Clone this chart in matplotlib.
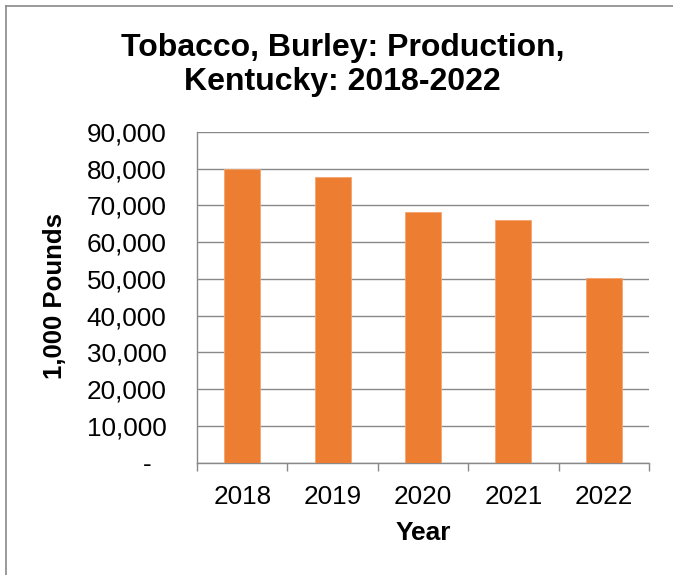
import numpy as np
import matplotlib.pyplot as plt
from matplotlib.lines import Line2D

plt.rcParams['font.family'] = ['Liberation Sans', 'DejaVu Sans']

# donnees
years = ['2018', '2019', '2020', '2021', '2022']
production = [80000, 77800, 68200, 66100, 50400]
y_ticks = [0, 10000, 20000, 30000, 40000, 50000, 60000, 70000, 80000, 90000]

BAR_COLOR = '#ED7D31'
GRID_COLOR = '#898989'


def fmt_tick(v):
    if v == 0:
        return '-  '
    return '{:,}'.format(int(v))


def main():
    fig = plt.figure(figsize=(6.73, 5.75), dpi=100)
    ax = fig.add_axes([197 / 673, 1 - 462.7 / 575, 452 / 673, 330.7 / 575])

    x = np.arange(len(years))
    ax.bar(x, production, width=0.4, color=BAR_COLOR, edgecolor='#F4A46F',
           linewidth=0.6, zorder=3)

    ax.set_xlim(-0.5, len(years) - 0.5)
    ax.set_ylim(0, 90000)

    ax.set_yticks(y_ticks)
    ax.set_yticklabels([fmt_tick(v) for v in y_ticks])
    ax.yaxis.grid(True, color=GRID_COLOR, linewidth=1.0, zorder=0)
    ax.tick_params(axis='y', length=0, labelsize=18.8, pad=22)

    ax.set_xticks(x)
    ax.set_xticklabels(years)
    ax.set_xticks(np.arange(len(years) + 1) - 0.5, minor=True)
    ax.tick_params(axis='x', which='major', length=0, labelsize=18.8, pad=16)
    ax.tick_params(axis='x', which='minor', length=6, color=GRID_COLOR, width=1.0)

    for side in ['top', 'right']:
        ax.spines[side].set_visible(False)
    for side in ['left', 'bottom']:
        ax.spines[side].set_color(GRID_COLOR)
        ax.spines[side].set_linewidth(1.0)

    fig.text(342.5 / 673, 1 - 65 / 575,
             'Tobacco, Burley: Production,\nKentucky: 2018-2022',
             ha='center', va='center', fontsize=23, fontweight='bold',
             linespacing=1.2)
    fig.text(55 / 673, 1 - 296 / 575, '1,000 Pounds', rotation=90,
             ha='center', va='center', fontsize=18.5, fontweight='bold')
    fig.text(423 / 673, 1 - 533 / 575, 'Year', ha='center', va='center',
             fontsize=19, fontweight='bold')

    # cadre gris (haut et gauche)
    fig.add_artist(Line2D([5.5 / 673, 5.5 / 673], [0, 1 - 5.5 / 575],
                          color=GRID_COLOR, linewidth=1.2))
    fig.add_artist(Line2D([5.5 / 673, 1], [1 - 5.5 / 575, 1 - 5.5 / 575],
                          color=GRID_COLOR, linewidth=1.2))

    fig.savefig('out.png', dpi=100)


if __name__ == "__main__":
    main()
